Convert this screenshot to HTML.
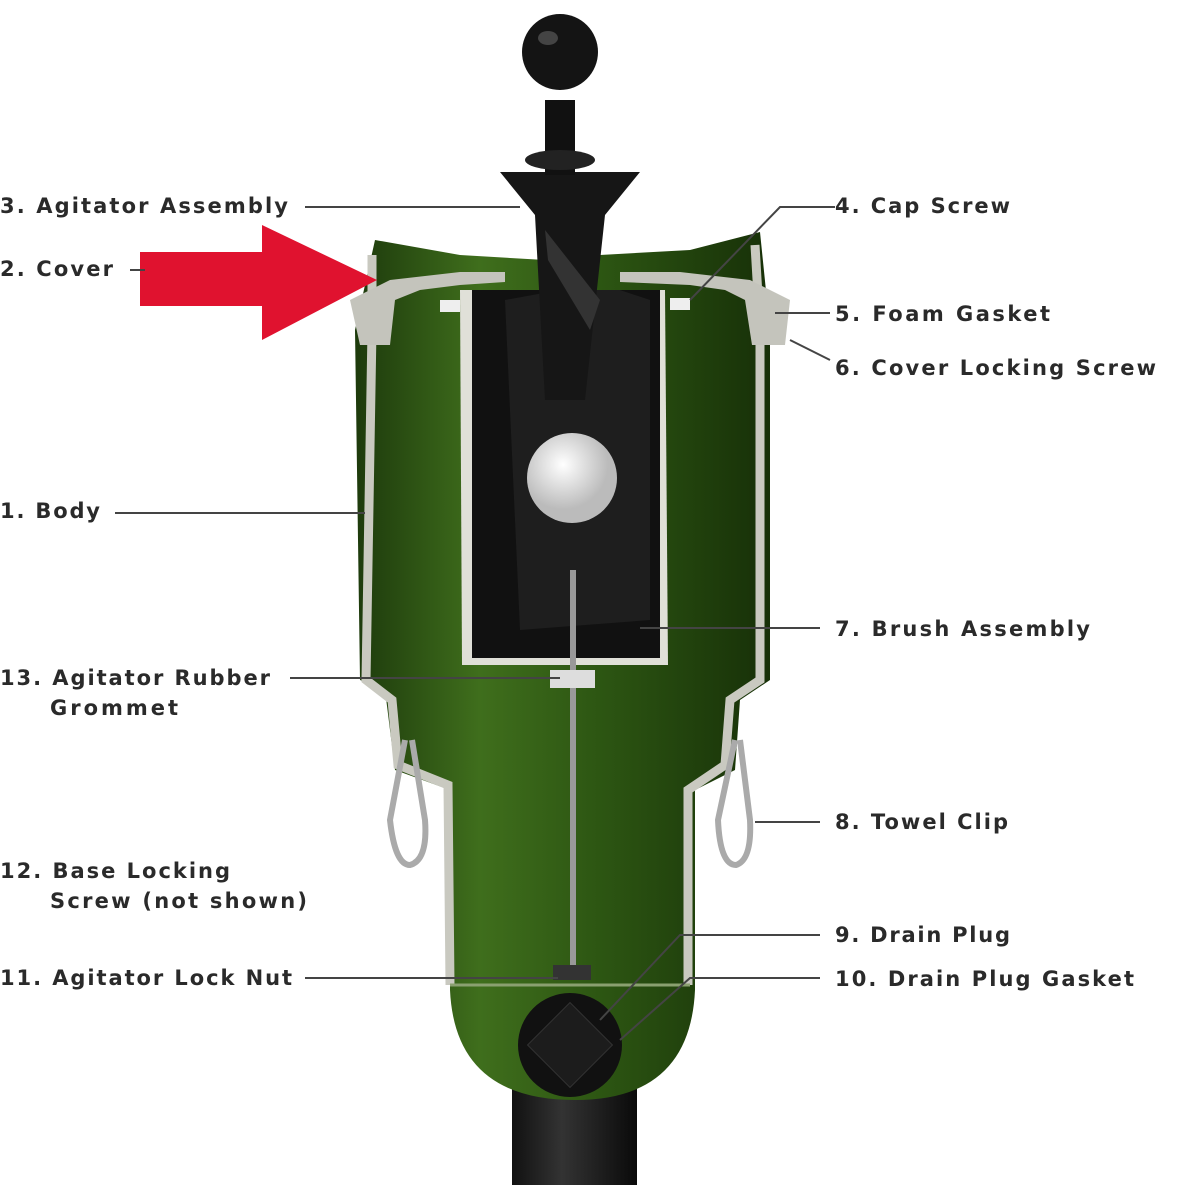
<!DOCTYPE html>
<html><head><meta charset="utf-8"><style>
html,body{margin:0;padding:0;background:#fff}
svg{display:block}
text{font-family:"DejaVu Sans","Liberation Sans",sans-serif;font-weight:bold;font-size:21px;fill:#2a2a2a}
</style></head><body>
<svg width="1200" height="1200" viewBox="0 0 1200 1200" xmlns="http://www.w3.org/2000/svg">
<defs>
<linearGradient id="g" x1="0" x2="1"><stop offset="0" stop-color="#1d3a0c"/><stop offset="0.3" stop-color="#3f6e1c"/><stop offset="0.6" stop-color="#2c5512"/><stop offset="1" stop-color="#173008"/></linearGradient>
<linearGradient id="p" x1="0" x2="1"><stop offset="0" stop-color="#111"/><stop offset="0.4" stop-color="#333"/><stop offset="1" stop-color="#0a0a0a"/></linearGradient>
<radialGradient id="ball" cx="0.4" cy="0.35"><stop offset="0" stop-color="#fff"/><stop offset="1" stop-color="#bbb"/></radialGradient>
</defs>
<!-- pole -->
<rect x="512" y="1060" width="125" height="125" fill="url(#p)"/>
<!-- body -->
<path d="M375 240 L460 255 L545 260 L600 255 L690 250 L760 232 L770 330 L770 680 L740 700 L735 770 L695 790 L695 990 Q690 1100 575 1100 Q455 1100 450 990 L450 790 L395 770 L385 690 L360 680 L355 330 Z" fill="url(#g)"/>
<!-- gray wall outline -->
<path d="M372 255 L372 330 L366 680 L392 700 L398 765 L448 785 L450 985" fill="none" stroke="#c9c9c0" stroke-width="9"/>
<path d="M755 245 L760 330 L760 680 L730 700 L725 765 L688 790 L688 985" fill="none" stroke="#c9c9c0" stroke-width="9"/>
<path d="M450 985 L690 985" stroke="#8aa070" stroke-width="3"/>
<!-- cover -->
<path d="M350 300 L390 280 L460 272 L505 272 L505 282 L460 285 L420 290 L395 300 L390 345 L360 345 Z" fill="#c4c4bc"/>
<path d="M790 300 L750 280 L680 272 L620 272 L620 282 L690 285 L725 290 L745 300 L752 345 L785 345 Z" fill="#c4c4bc"/>
<rect x="440" y="300" width="20" height="12" fill="#eee"/><rect x="670" y="298" width="20" height="12" fill="#eee"/>
<!-- inner box -->
<path d="M460 290 L665 290 L668 665 L462 665 Z" fill="#e0e0d8"/>
<rect x="472" y="290" width="188" height="368" fill="#111"/>
<path d="M505 300 L560 290 L620 290 L650 300 L650 620 L520 630 Z" fill="#1e1e1e"/>
<!-- agitator -->
<path d="M500 172 L640 172 L605 215 L585 400 L545 400 L535 215 Z" fill="#161616"/>
<path d="M545 230 L600 300 L590 330 L548 260 Z" fill="#333"/>
<rect x="545" y="100" width="30" height="75" fill="#111"/>
<ellipse cx="560" cy="160" rx="35" ry="10" fill="#222"/>
<circle cx="560" cy="52" r="38" fill="#141414"/>
<ellipse cx="548" cy="38" rx="10" ry="7" fill="#444"/>
<circle cx="572" cy="478" r="45" fill="url(#ball)"/>
<!-- shaft -->
<rect x="570" y="570" width="6" height="410" fill="#999"/>
<rect x="550" y="670" width="45" height="18" fill="#ddd"/>
<rect x="553" y="965" width="38" height="15" fill="#333"/>
<!-- clips -->
<path d="M405 740 L390 820 Q395 865 410 865 Q428 860 425 820 L412 740" fill="none" stroke="#aaa" stroke-width="6"/>
<path d="M735 740 L718 820 Q720 865 736 865 Q752 860 750 820 L740 740" fill="none" stroke="#aaa" stroke-width="6"/>
<!-- drain plug -->
<circle cx="570" cy="1045" r="52" fill="#111"/>
<rect x="540" y="1015" width="60" height="60" fill="#1c1c1c" stroke="#333" transform="rotate(45 570 1045)"/>
<!-- red arrow -->
<path d="M140 252 L262 252 L262 225 L377 280 L262 340 L262 306 L140 306 Z" fill="#e0122f"/>
<!-- leader lines -->
<g stroke="#444" stroke-width="2" fill="none">
<path d="M305 207 L520 207"/>
<path d="M130 270 L145 270"/>
<path d="M115 513 L365 513"/>
<path d="M290 678 L560 678"/>
<path d="M305 978 L558 978"/>
<path d="M835 207 L780 207 L690 300"/>
<path d="M830 313 L775 313"/>
<path d="M830 360 L790 340"/>
<path d="M820 628 L640 628"/>
<path d="M820 822 L755 822"/>
<path d="M820 935 L680 935 L600 1020"/>
<path d="M820 978 L690 978 L620 1040"/>
</g>
<!-- labels -->
<text x="0" y="213" textLength="288" lengthAdjust="spacing">3. Agitator Assembly</text>
<text x="0" y="276" textLength="113" lengthAdjust="spacing">2. Cover</text>
<text x="0" y="518" textLength="100" lengthAdjust="spacing">1. Body</text>
<text x="0" y="685" textLength="270" lengthAdjust="spacing">13. Agitator Rubber</text>
<text x="50" y="715" textLength="128" lengthAdjust="spacing">Grommet</text>
<text x="0" y="878" textLength="230" lengthAdjust="spacing">12. Base Locking</text>
<text x="50" y="908" textLength="257" lengthAdjust="spacing">Screw (not shown)</text>
<text x="0" y="985" textLength="292" lengthAdjust="spacing">11. Agitator Lock Nut</text>
<text x="835" y="213" textLength="175" lengthAdjust="spacing">4. Cap Screw</text>
<text x="835" y="321" textLength="215" lengthAdjust="spacing">5. Foam Gasket</text>
<text x="835" y="375" textLength="321" lengthAdjust="spacing">6. Cover Locking Screw</text>
<text x="835" y="636" textLength="255" lengthAdjust="spacing">7. Brush Assembly</text>
<text x="835" y="829" textLength="173" lengthAdjust="spacing">8. Towel Clip</text>
<text x="835" y="942" textLength="175" lengthAdjust="spacing">9. Drain Plug</text>
<text x="835" y="986" textLength="299" lengthAdjust="spacing">10. Drain Plug Gasket</text>
</svg>
</body></html>
